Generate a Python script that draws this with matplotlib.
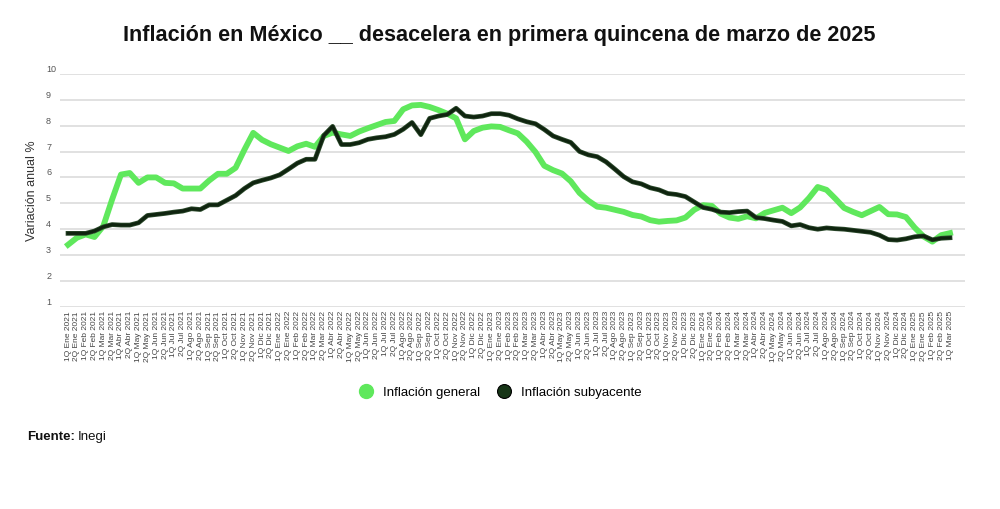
import matplotlib.pyplot as plt
from matplotlib.lines import Line2D

MONTHS = ['Ene', 'Feb', 'Mar', 'Abr', 'May', 'Jun',
          'Jul', 'Ago', 'Sep', 'Oct', 'Nov', 'Dic']
YEARS = [2021, 2022, 2023, 2024]
LAST_YEAR_MONTHS = ['Ene', 'Feb', 'Mar']

# inflación general, % anual por quincena (1Q Ene 2021 .. 1Q Mar 2025)
general = [
    3.40, 3.67, 3.80, 3.70, 4.12, 5.15, 6.11, 6.17, 5.79, 6.00, 6.00, 5.79,
    5.77, 5.57, 5.57, 5.57, 5.88, 6.14, 6.14, 6.37, 7.07, 7.72, 7.45, 7.28,
    7.15, 7.02, 7.20, 7.30, 7.18, 7.60, 7.73, 7.66, 7.60, 7.77, 7.90, 8.02,
    8.14, 8.18, 8.63, 8.78, 8.80, 8.72, 8.60, 8.46, 8.28, 7.47, 7.79, 7.92,
    7.97, 7.95, 7.82, 7.70, 7.38, 6.98, 6.45, 6.28, 6.15, 5.85, 5.40, 5.10,
    4.87, 4.83, 4.75, 4.67, 4.55, 4.49, 4.35, 4.29, 4.32, 4.34, 4.45, 4.75,
    4.93, 4.90, 4.60, 4.45, 4.40, 4.50, 4.42, 4.63, 4.73, 4.83, 4.62, 4.84,
    5.20, 5.63, 5.52, 5.18, 4.82, 4.67, 4.54, 4.70, 4.86, 4.58, 4.57, 4.47,
    4.06, 3.72, 3.52, 3.77, 3.85,
]

# inflación subyacente
subyacente = [
    3.84, 3.84, 3.84, 3.93, 4.09, 4.18, 4.16, 4.16, 4.25, 4.53, 4.57, 4.61,
    4.66, 4.70, 4.79, 4.76, 4.94, 4.94, 5.12, 5.30, 5.57, 5.79, 5.89, 5.98,
    6.10, 6.32, 6.55, 6.70, 6.70, 7.62, 7.97, 7.27, 7.27, 7.34, 7.47, 7.53,
    7.57, 7.66, 7.86, 8.12, 7.65, 8.28, 8.37, 8.43, 8.67, 8.37, 8.33, 8.37,
    8.46, 8.46, 8.40, 8.26, 8.15, 8.07, 7.85, 7.60, 7.47, 7.35, 7.00, 6.87,
    6.80, 6.60, 6.32, 6.03, 5.83, 5.75, 5.60, 5.52, 5.38, 5.34, 5.26, 5.05,
    4.84, 4.77, 4.66, 4.64, 4.68, 4.70, 4.45, 4.41, 4.35, 4.30, 4.13, 4.18,
    4.06, 4.00, 4.05, 4.02, 4.00, 3.96, 3.92, 3.88, 3.77, 3.60, 3.58, 3.63,
    3.71, 3.74, 3.59, 3.65, 3.67,
]

labels = []
for year in YEARS:
    for m in MONTHS:
        labels.append(f'1Q {m} {year}')
        labels.append(f'2Q {m} {year}')
for m in LAST_YEAR_MONTHS:
    labels.append(f'1Q {m} 2025')
    labels.append(f'2Q {m} 2025')
labels = labels[:len(general)]

GREEN = '#5fe85c'
DARK = '#0f240f'
FONT = ['Liberation Sans', 'DejaVu Sans']

plt.rcParams['font.family'] = FONT

fig = plt.figure(figsize=(10, 5.09), dpi=100)
ax = fig.add_axes([0.06, 0.397, 0.905, 0.458])

x = list(range(len(general)))
ax.plot(x, general, color=GREEN, lw=4.2, solid_joinstyle='round', zorder=3)
ax.plot(x, subyacente, color='#2c4a2c', lw=3.4, zorder=4)
ax.plot(x, subyacente, color=DARK, lw=2.2, zorder=5)

ax.set_xlim(-0.91, 101.7)
ax.set_ylim(1, 10)
ax.set_yticks(range(1, 11))
ax.grid(axis='y', color='#d9d9d9', lw=1.1, zorder=0)
ax.set_axisbelow(True)
for s in ax.spines.values():
    s.set_visible(False)

ax.set_xticks(x)
ax.set_xticklabels(labels, rotation=90, fontsize=6, color='#444444')
ax.tick_params(axis='x', length=0, pad=3)
ax.tick_params(axis='y', length=0, pad=10, labelsize=6.5, labelcolor='#555555')
for t in ax.get_yticklabels():
    t.set_horizontalalignment('left')
    t.set_verticalalignment('bottom')

ax.set_ylabel('Variación anual %', fontsize=9, color='#333333')
ax.yaxis.set_label_coords(-0.024, 0.5)

fig.text(0.499, 0.931, 'Inflación en México __ desacelera en primera quincena de marzo de 2025',
         ha='center', va='center', fontsize=15.6, fontweight='bold',
         color='#111111')

handles = [
    Line2D([], [], ls='none', marker='o', ms=10, color=GREEN),
    Line2D([], [], ls='none', marker='o', ms=10, color='#173517',
           markeredgecolor='#000000', markeredgewidth=0.8),
]
fig.legend(handles, ['Inflación general', 'Inflación subyacente'],
           loc='center', bbox_to_anchor=(0.497, 0.228), ncol=2, frameon=False,
           fontsize=9.5, handletextpad=0.3, columnspacing=0.8)

fig.text(0.027, 0.141, 'Fuente:', fontsize=9.5, fontweight='bold', color='#111111',
         va='center')
fig.text(0.078, 0.141, 'Inegi', fontsize=9.5, color='#111111', va='center')

fig.savefig('out.png', dpi=100, facecolor='white')
